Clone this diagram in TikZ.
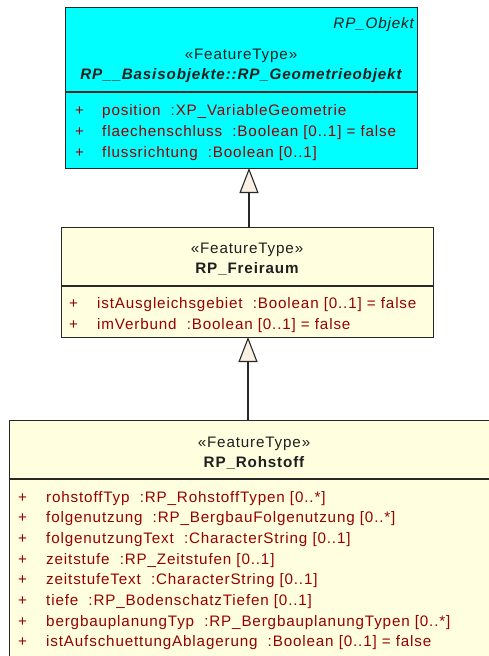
\documentclass[tikz,border=0pt]{standalone}
\usepackage{fontspec}
\setmainfont{Liberation Sans}[LetterSpace=5.6]
\usetikzlibrary{arrows.meta,positioning}

\definecolor{geomcyan}{RGB}{0,255,255}
\definecolor{classyellow}{RGB}{255,255,224}
\definecolor{attrred}{RGB}{150,0,0}
\definecolor{tipfill}{RGB}{250,240,228}
\definecolor{edgegray}{RGB}{40,40,40}

\newcommand{\umlfont}{\fontsize{15.2}{18}\selectfont}

\tikzset{
  classbox/.style={draw=edgegray, line width=1.3pt, inner sep=0pt, anchor=north west},
  compline/.style={draw=edgegray, line width=1.3pt},
  umltext/.style={inner sep=0pt, font=\umlfont, text=black!88},
  headline/.style={umltext, anchor=base},
  attrtext/.style={umltext, anchor=base west, text=attrred},
  generalize/.style={draw=edgegray, line width=1.1pt,
    -{Triangle[open, length=25pt, width=19pt, fill=tipfill, line width=1.1pt]}}
}

\begin{document}
\begin{tikzpicture}[x=1pt, y=-1pt]
  \useasboundingbox (0,0) rectangle (488,656);

  % Klassen
  \node[classbox, fill=geomcyan, minimum width=352, minimum height=161] (geom) at (65,7) {};
  \node[classbox, fill=classyellow, minimum width=372, minimum height=110] (freiraum) at (61,227) {};
  \node[classbox, fill=classyellow, minimum width=490, minimum height=260] (rohstoff) at (9,420) {};

  % Trennlinien
  \draw[compline] (65,92) -- (417,92);
  \draw[compline] (61,286) -- (433,286);
  \draw[compline] (9,479) -- (499,479);

  % RP_Geometrieobjekt
  \node[umltext, anchor=base east, font=\umlfont\itshape] (geomParent) at (414,28) {RP\_Objekt};
  \node[headline] (geomStereo) at (241,59) {«FeatureType»};
  \node[headline, font=\umlfont\bfseries\itshape] (geomName) at (241,79) {RP\_\_Basisobjekte::RP\_Geometrieobjekt};
  \foreach \i/\attr in {0/{position~~:XP\_VariableGeometrie},
                        1/{flaechenschluss~~:Boolean [0..1] = false},
                        2/{flussrichtung~~:Boolean [0..1]}} {
    \node[attrtext] (geomSign\i) at (75,115+21*\i) {+};
    \node[attrtext] (geomAttr\i) at (102,115+21*\i) {\attr};
  }

  % RP_Freiraum
  \node[headline] (freiStereo) at (247,253) {«FeatureType»};
  \node[headline, font=\umlfont\bfseries] (freiName) at (247,273) {RP\_Freiraum};
  \foreach \i/\attr in {0/{istAusgleichsgebiet~~:Boolean [0..1] = false},
                        1/{imVerbund~~:Boolean [0..1] = false}} {
    \node[attrtext] (freiSign\i) at (69,308+21*\i) {+};
    \node[attrtext] (freiAttr\i) at (97,308+21*\i) {\attr};
  }

  % RP_Rohstoff
  \node[headline] (rohStereo) at (254,447) {«FeatureType»};
  \node[headline, font=\umlfont\bfseries] (rohName) at (254,467) {RP\_Rohstoff};
  \foreach \i/\attr in {0/{rohstoffTyp~~:RP\_RohstoffTypen [0..*]},
                        1/{folgenutzung~~:RP\_BergbauFolgenutzung [0..*]},
                        2/{folgenutzungText~~:CharacterString [0..1]},
                        3/{zeitstufe~~:RP\_Zeitstufen [0..1]},
                        4/{zeitstufeText~~:CharacterString [0..1]},
                        5/{tiefe~~:RP\_BodenschatzTiefen [0..1]},
                        6/{bergbauplanungTyp~~:RP\_BergbauplanungTypen [0..*]},
                        7/{istAufschuettungAblagerung~~:Boolean [0..1] = false}} {
    \node[attrtext] (rohSign\i) at (18,502+20.7*\i) {+};
    \node[attrtext] (rohAttr\i) at (46,502+20.7*\i) {\attr};
  }

  % Generalisierungen
  \coordinate (geomFoot) at (249,168);
  \coordinate (freiFoot) at (248,337);
  \draw[generalize] (freiraum.north -| geomFoot) -- (geomFoot);
  \draw[generalize] (rohstoff.north -| freiFoot) -- (freiFoot);
\end{tikzpicture}
\end{document}
